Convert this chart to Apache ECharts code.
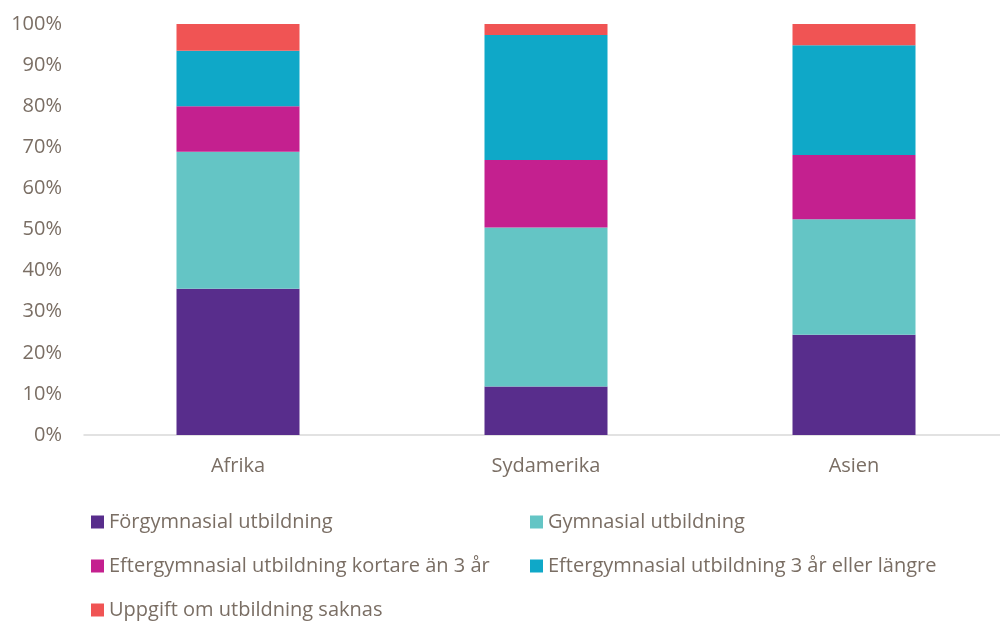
<!DOCTYPE html>
<html lang="sv">
<head>
<meta charset="utf-8">
<title>Utbildningsnivå</title>
<script src="https://cdn.jsdelivr.net/npm/echarts@6/dist/echarts.min.js"></script>
<style>
  html, body { margin: 0; padding: 0; background: #fff; overflow: hidden; }
  #main { width: 1008px; height: 622px; }
</style>
</head>
<body>
<div id="main"></div>
<script>
// kategorier och andelar (%)
var categories = ['Afrika', 'Sydamerika', 'Asien'];
var seriesNames = [
  'Förgymnasial utbildning',
  'Gymnasial utbildning',
  'Eftergymnasial utbildning kortare än 3 år',
  'Eftergymnasial utbildning 3 år eller längre',
  'Uppgift om utbildning saknas'
];
var forgymnasial = [35.6, 11.8, 24.4];
var gymnasial = [33.3, 38.7, 28.1];
var eftergymnKort = [11.1, 16.4, 15.6];
var eftergymnLang = [13.5, 30.4, 26.7];
var saknas = [6.5, 2.7, 5.2];
var yTicks = [0, 10, 20, 30, 40, 50, 60, 70, 80, 90, 100];

var colors = ['#582d8c', '#64c5c5', '#c4208f', '#0fa8c8', '#f05454'];
var textColor = '#7a6e64';
var font = '"Open Sans", "Noto Sans", sans-serif';

var values = [forgymnasial, gymnasial, eftergymnKort, eftergymnLang, saknas];

var series = [];
for (var i = 0; i < seriesNames.length; i++) {
  series.push({
    name: seriesNames[i],
    type: 'bar',
    stack: 'total',
    barWidth: 123,
    data: values[i],
    itemStyle: { color: colors[i] }
  });
}

var legendText = { color: textColor, fontSize: 20, fontFamily: font };

var option = {
  backgroundColor: '#ffffff',
  animation: false,
  color: colors,
  grid: {
    left: 84,
    top: 24,
    width: 924,
    height: 411,
    containLabel: false
  },
  legend: [{
    left: 86,
    top: 507,
    height: 130,
    orient: 'vertical',
    itemWidth: 13,
    itemHeight: 13,
    itemGap: 24,
    icon: 'rect',
    textStyle: legendText,
    data: [seriesNames[0], seriesNames[2], seriesNames[4]]
  }, {
    left: 525,
    top: 507,
    height: 130,
    orient: 'vertical',
    itemWidth: 13,
    itemHeight: 13,
    itemGap: 24,
    icon: 'rect',
    textStyle: legendText,
    data: [seriesNames[1], seriesNames[3]]
  }],
  xAxis: {
    type: 'category',
    data: categories,
    axisTick: { show: false },
    axisLine: { lineStyle: { color: '#d9d9d9', width: 1.5 } },
    axisLabel: {
      color: textColor,
      fontSize: 20,
      fontFamily: font,
      margin: 21
    }
  },
  yAxis: {
    type: 'value',
    min: yTicks[0],
    max: yTicks[yTicks.length - 1],
    interval: 10,
    splitLine: { show: false },
    axisLine: { show: false },
    axisTick: { show: false },
    axisLabel: {
      color: textColor,
      fontSize: 20,
      fontFamily: font,
      margin: 22,
      formatter: '{value}%'
    }
  },
  series: series
};

var myChart = echarts.init(document.getElementById('main'), null, { renderer: 'canvas' });
myChart.setOption(option);
</script>
</body>
</html>
